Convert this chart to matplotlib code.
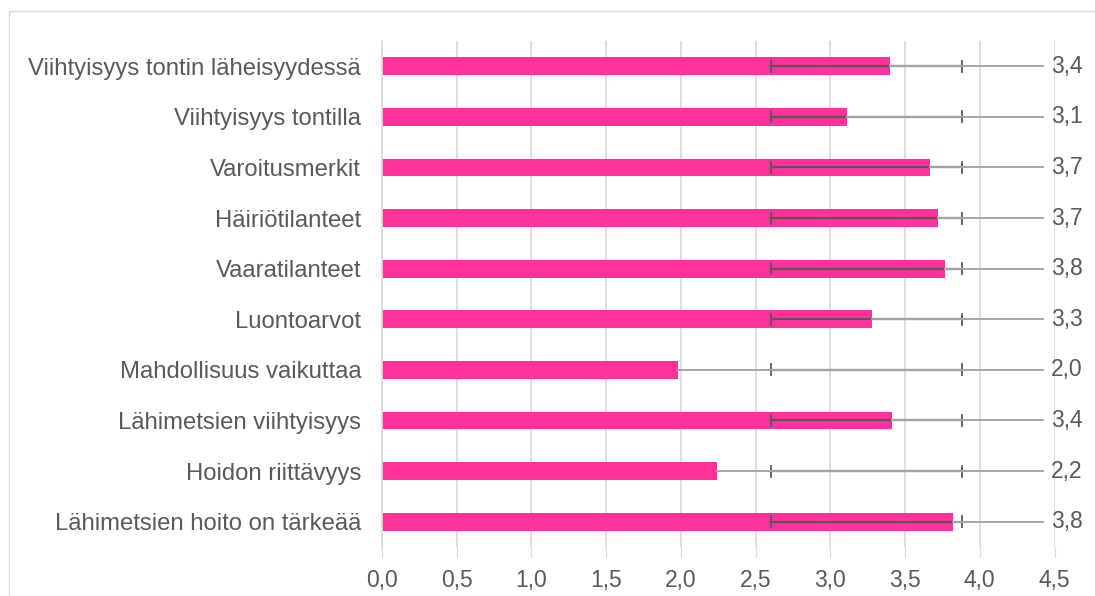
import matplotlib as mpl
mpl.use("Agg")
import matplotlib.pyplot as plt
from matplotlib.patches import Rectangle

categories = [
    "Viihtyisyys tontin läheisyydessä",
    "Viihtyisyys tontilla",
    "Varoitusmerkit",
    "Häiriötilanteet",
    "Vaaratilanteet",
    "Luontoarvot",
    "Mahdollisuus vaikuttaa",
    "Lähimetsien viihtyisyys",
    "Hoidon riittävyys",
    "Lähimetsien hoito on tärkeää",
]
values = [3.40, 3.11, 3.67, 3.72, 3.77, 3.28, 1.98, 3.41, 2.24, 3.82]
value_labels = ["3,4", "3,1", "3,7", "3,7", "3,8", "3,3", "2,0", "3,4", "2,2", "3,8"]
err_low = 2.60
err_high = 3.88
xticks = [0.0, 0.5, 1.0, 1.5, 2.0, 2.5, 3.0, 3.5, 4.0, 4.5]

PINK = "#FF3399"
TEXT = "#595959"
GRID = "#D9D9D9"
LEADER = "#A6A6A6"
FS = 16.5

plt.rcParams["font.family"] = ["Liberation Sans", "DejaVu Sans"]

fig = plt.figure(figsize=(10.95, 5.96), dpi=100)
ax = fig.add_axes([382 / 1095, 1 - 547 / 596, (1054.5 - 382) / 1095, (547 - 41) / 596])

ypos = list(range(len(categories)))
ax.barh(ypos, values, height=0.355, color=PINK, zorder=2)

# error bars (same range on every row)
for y in ypos:
    ax.plot([err_low, err_high], [y, y], color=TEXT, lw=1.6, zorder=3, solid_capstyle="butt")
    for xe in (err_low, err_high):
        ax.plot([xe, xe], [y - 0.11, y + 0.11], color=TEXT, lw=1.3, zorder=3)

# leader lines from bar end to label
for y, v, lab in zip(ypos, values, value_labels):
    ax.plot([v, 4.42], [y, y], color=LEADER, lw=1.4, zorder=4, clip_on=False)
    ax.text(4.475, y, lab, ha="left", va="center", fontsize=FS, color=TEXT, clip_on=False)

ax.set_xlim(0, 4.5)
ax.set_ylim(len(categories) - 0.5, -0.5)
ax.set_xticks(xticks)
ax.set_xticklabels([f"{t:.1f}".replace(".", ",") for t in xticks])
ax.set_yticks(ypos)
ax.set_yticklabels(categories)
ax.tick_params(axis="x", length=7, color=GRID, labelcolor=TEXT, labelsize=FS, pad=9)
ax.tick_params(axis="y", length=0, labelcolor=TEXT, labelsize=17.2, pad=15)
ax.grid(axis="x", color=GRID, lw=1.2, zorder=0)
ax.set_axisbelow(True)
for s in ["top", "right", "bottom"]:
    ax.spines[s].set_visible(False)
ax.spines["left"].set_color(GRID)
ax.spines["left"].set_linewidth(1.2)

# outer chart frame
fig.patches.append(Rectangle((9 / 1095, -0.05), 1.2, 1 - 11 / 596 + 0.05,
                             transform=fig.transFigure, fill=False,
                             edgecolor=GRID, lw=1.0))

fig.savefig("out.png", dpi=100, facecolor="white")
